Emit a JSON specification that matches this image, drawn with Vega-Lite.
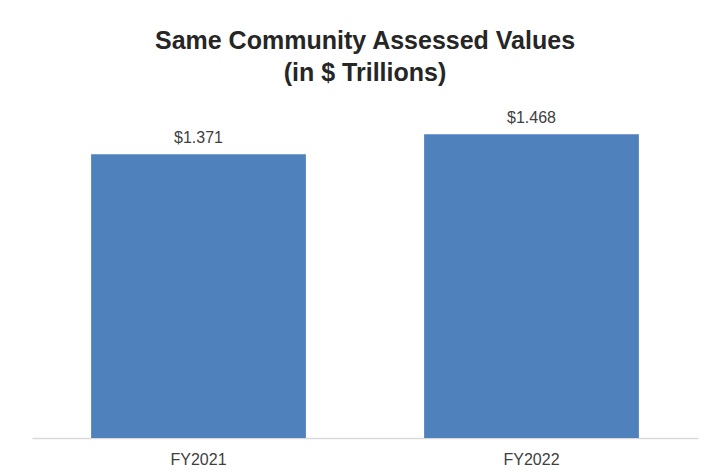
{
  "$schema": "https://vega.github.io/schema/vega-lite/v6.json",
  "width": 666,
  "height": 331,
  "autosize": {"type": "none"},
  "padding": {"left": 32, "top": 107, "right": 10, "bottom": 33},
  "background": "white",
  "title": {
    "text": ["Same Community Assessed Values", "(in $ Trillions)"],
    "anchor": "middle",
    "frame": "group",
    "font": "Liberation Sans",
    "fontSize": 25,
    "fontWeight": "bold",
    "color": "#262626",
    "lineHeight": 32,
    "offset": 21
  },
  "data": {
    "values": [
      {"year": "FY2021", "value": 1.371, "label": "$1.371"},
      {"year": "FY2022", "value": 1.468, "label": "$1.468"}
    ]
  },
  "encoding": {
    "x": {
      "field": "year",
      "type": "nominal",
      "sort": null,
      "scale": {"paddingInner": 0.355, "paddingOuter": 0.1775},
      "axis": {
        "title": null,
        "labelAngle": 0,
        "ticks": false,
        "domainColor": "#d9d9d9",
        "domainWidth": 1.5,
        "labelFont": "Liberation Sans",
        "labelFontSize": 16,
        "labelColor": "#404040",
        "labelPadding": 13
      }
    },
    "y": {
      "field": "value",
      "type": "quantitative",
      "scale": {"domain": [0, 1.6], "nice": false},
      "axis": null
    }
  },
  "layer": [
    {"mark": {"type": "bar", "color": "#4f81bd"}},
    {
      "mark": {
        "type": "text",
        "baseline": "alphabetic",
        "dy": -11,
        "font": "Liberation Sans",
        "fontSize": 16,
        "color": "#404040"
      },
      "encoding": {"text": {"field": "label"}}
    }
  ],
  "config": {"view": {"stroke": null}}
}
